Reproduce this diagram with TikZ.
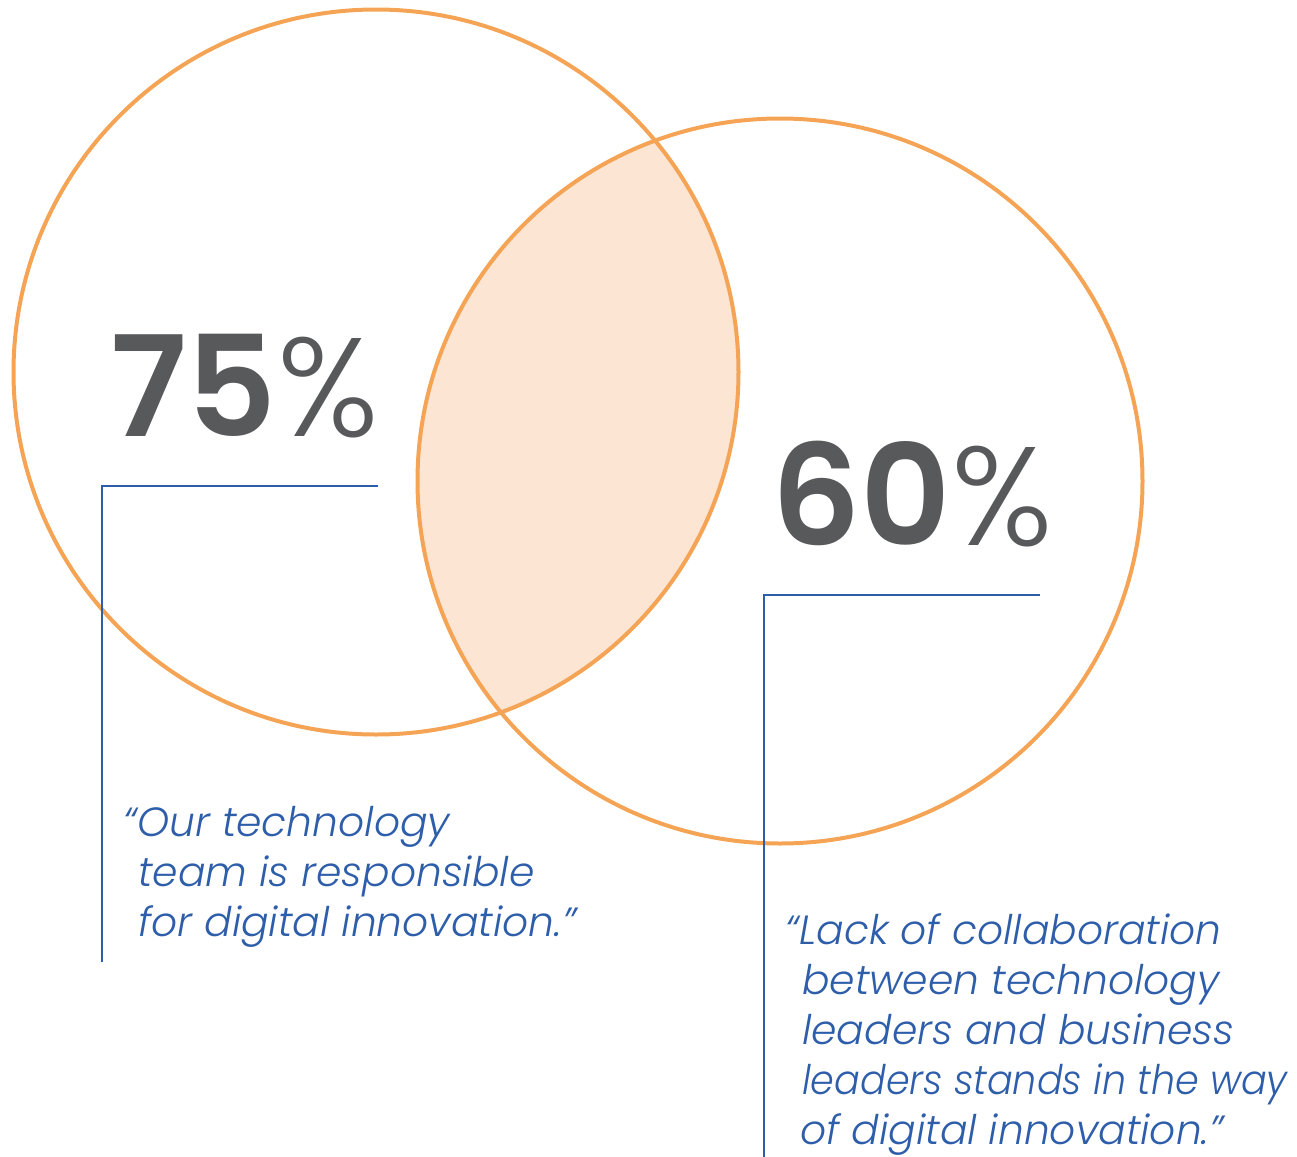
\documentclass[tikz,border=0pt]{standalone}
\usepackage{fontspec}
\usepackage{graphicx}
\setmainfont{Lato}
\newfontfamily\numfont{Poppins}[BoldFont={Poppins SemiBold}]
\newfontfamily\pctfont{Poppins Light}
\newfontfamily\quotefont{Poppins Light}[ItalicFont={Poppins Light Italic}]
\definecolor{vorange}{HTML}{F5A455}
\definecolor{vfill}{HTML}{FCE5D3}
\definecolor{vgray}{HTML}{58595B}
\definecolor{vblue}{HTML}{2E5EAA}
\begin{document}
\begin{tikzpicture}[x=0.75pt,y=-0.75pt,
  ring/.style={draw=vorange,line width=3pt},
  leader/.style={draw=vblue,line width=2pt},
  bignum/.style={anchor=base west,inner sep=0pt,text=vgray,font=\fontsize{105}{105}\selectfont},
  quoteline/.style={anchor=base west,inner sep=0pt,text=vblue,font=\quotefont\itshape\fontsize{30.6}{38}\selectfont}]
\useasboundingbox (0,0) rectangle (1297,1157);
\coordinate (cl) at (376,372);
\coordinate (cr) at (780,481);
% intersection fill
\begin{scope}
  \clip (cl) circle[radius=362.5];
  \fill[vfill] (cr) circle[radius=362.5];
\end{scope}
\draw[ring] (cl) circle[radius=362.5];
\draw[ring] (cr) circle[radius=362.5];
% numbers
\node[bignum] (n75) at (110,436) {{\numfont\bfseries 75}{\pctfont\%}};
\node[bignum] (n60) at (771,545) {{\numfont\bfseries 60}{\pctfont\%}};
% leaders
\coordinate (l1a) at (378,486);
\coordinate (l1b) at (102,486);
\coordinate (l1c) at (102,962);
\draw[leader] (l1a) -- (l1b) -- (l1c);
\coordinate (l2a) at (1040,595);
\coordinate (l2b) at (764,595);
\coordinate (l2c) at (764,1157);
\draw[leader] (l2a) -- (l2b) -- (l2c);
% left quote
\node[quoteline] (q1a) at (123,836) {“Our technology};
\node[quoteline] (q1b) at (138,886) {team is responsible};
\node[quoteline] (q1c) at (138,936) {for digital innovation.”};
% right quote
\node[quoteline] (q2a) at (785,944) {“Lack of collaboration};
\node[quoteline] (q2b) at (802,994) {between technology};
\node[quoteline] (q2c) at (802,1044) {leaders and business};
\node[quoteline] (q2d) at (802,1094) {\resizebox{364pt}{\height}{leaders stands in the way}};
\node[quoteline] (q2e) at (800,1144) {of digital innovation.”};
\end{tikzpicture}
\end{document}
